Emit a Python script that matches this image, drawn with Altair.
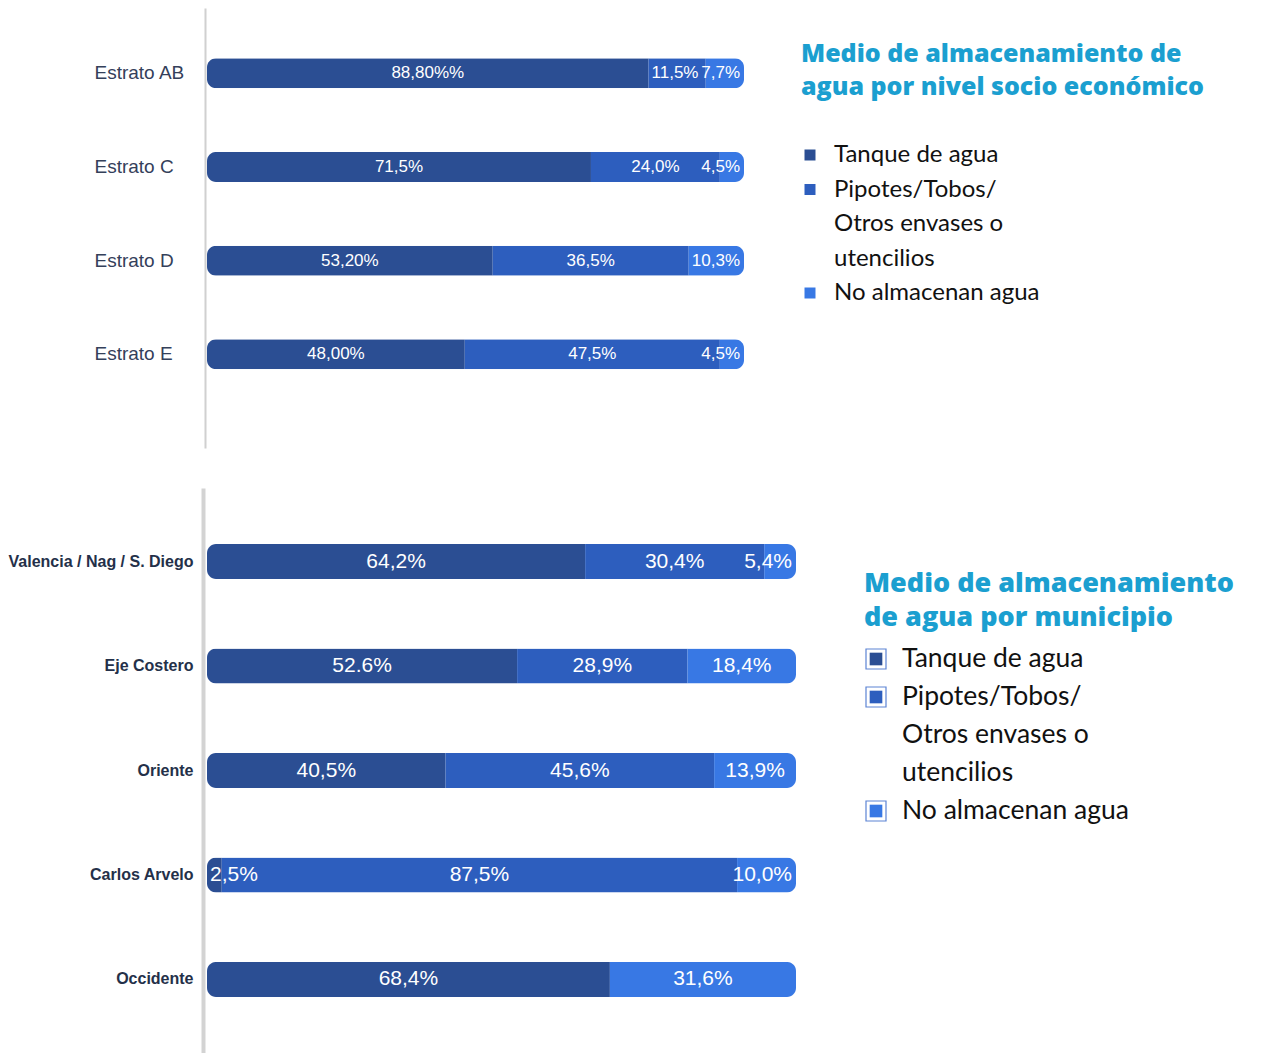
import altair as alt
import pandas as pd

# ---------------- data ----------------
categories = ["Tanque de agua", "Pipotes/Tobos/Otros envases o utencilios", "No almacenan agua"]
colors = ["#2B4E93", "#2D5EBE", "#3878E4"]

estratos = ["Estrato AB", "Estrato C", "Estrato D", "Estrato E"]
tanque_estrato = [88.8, 71.5, 53.2, 48.0]
pipotes_estrato = [11.5, 24.0, 36.5, 47.5]
noalm_estrato = [7.7, 4.5, 10.3, 4.5]
lbl_tanque_estrato = ["88,80%%", "71,5%", "53,20%", "48,00%"]
lbl_pipotes_estrato = ["11,5%", "24,0%", "36,5%", "47,5%"]
lbl_noalm_estrato = ["7,7%", "4,5%", "10,3%", "4,5%"]

municipios = ["Valencia / Nag / S. Diego", "Eje Costero", "Oriente", "Carlos Arvelo", "Occidente"]
tanque_mun = [64.2, 52.6, 40.5, 2.5, 68.4]
pipotes_mun = [30.4, 28.9, 45.6, 87.5, None]
noalm_mun = [5.4, 18.4, 13.9, 10.0, 31.6]
lbl_tanque_mun = ["64,2%", "52.6%", "40,5%", "2,5%", "68,4%"]
lbl_pipotes_mun = ["30,4%", "28,9%", "45,6%", "87,5%", None]
lbl_noalm_mun = ["5,4%", "18,4%", "13,9%", "10,0%", "31,6%"]

title_estrato = ["Medio de almacenamiento de", "agua por nivel socio económico"]
title_mun = ["Medio de almacenamiento", "de agua por municipio"]
legend_lines = [["Tanque de agua"], ["Pipotes/Tobos/", "Otros envases o", "utencilios"], ["No almacenan agua"]]

CYAN = "#1B9FD0"


def long_table(names, series, labels):
    rows = []
    for i, name in enumerate(names):
        for k, (vals, lbls) in enumerate(zip(series, labels)):
            if vals[i] is None:
                continue
            rows.append({"cat": name, "k": k, "serie": categories[k], "v": vals[i], "lbl": lbls[i]})
    return pd.DataFrame(rows)


def bars(df, order, width, height, pin, pout, align, radius, lblsize, axis_cfg):
    base = alt.Chart(df)
    y = alt.Y("cat:N", sort=order, title=None,
              scale=alt.Scale(paddingInner=pin, paddingOuter=pout, align=align),
              axis=alt.Axis(**axis_cfg))
    xs = alt.Scale(domain=[0, 1], nice=False)
    color = alt.Color("serie:N", scale=alt.Scale(domain=categories, range=colors), legend=None)
    bar = base.mark_bar(cornerRadius=radius).encode(
        x=alt.X("v:Q", stack="normalize", scale=xs, axis=None),
        y=y, color=color, order=alt.Order("k:Q"))
    stacked = base.transform_stack(
        stack="v", as_=["x0", "x1"], groupby=["cat"],
        sort=[alt.SortField("k", order="ascending")], offset="normalize"
    ).transform_calculate(mid="(datum.x0 + datum.x1) / 2", frac="datum.x1 - datum.x0")
    tstyle = dict(color="white", font="Liberation Sans", fontSize=lblsize, baseline="middle")
    center = stacked.transform_filter(
        "(datum.k == 0 && datum.frac >= 0.11) || (datum.k == 1 && datum.frac >= 0.15) || (datum.k == 2 && datum.frac >= 0.11)"
    ).mark_text(align="center", **tstyle).encode(
        x=alt.X("mid:Q", scale=xs, axis=None), y=y, text="lbl:N")
    left = stacked.transform_filter(
        "(datum.k == 0 && datum.frac < 0.11) || (datum.k == 1 && datum.frac < 0.15)"
    ).mark_text(align="left", dx=3, **tstyle).encode(
        x=alt.X("x0:Q", scale=xs, axis=None), y=y, text="lbl:N")
    right = stacked.transform_filter("datum.frac < 0.11 && datum.k == 2").mark_text(align="right", dx=-4, **tstyle).encode(
        x=alt.X("x1:Q", scale=xs, axis=None), y=y, text="lbl:N")
    return alt.layer(bar, center, left, right).properties(width=width, height=height)


def panel(title_lines, width, height, tsize, trange, lsize, lrange, text_x, sq_x, boxed):
    tdf = pd.DataFrame({"line": list(range(len(title_lines))), "text": title_lines})
    title = alt.Chart(tdf).mark_text(align="left", baseline="alphabetic", font="Open Sans", fontWeight=800,
                                      fontSize=tsize, color=CYAN).encode(
        x=alt.value(2),
        y=alt.Y("line:Q", scale=alt.Scale(domain=[0, len(title_lines) - 1], range=trange), axis=None),
        text="text:N")
    rows = []
    n = 0
    for k, lines in enumerate(legend_lines):
        for j, t in enumerate(lines):
            rows.append({"line": n, "text": t, "serie": categories[k], "first": j == 0})
            n += 1
    ldf = pd.DataFrame(rows)
    ly = alt.Y("line:Q", scale=alt.Scale(domain=[0, n - 1], range=lrange), axis=None)
    labels = alt.Chart(ldf).mark_text(align="left", baseline="middle", font="Lato", fontSize=lsize,
                                       color="#111111").encode(x=alt.value(text_x), y=ly, text="text:N")
    color = alt.Color("serie:N", scale=alt.Scale(domain=categories, range=colors), legend=None)
    first = alt.Chart(ldf).transform_filter("datum.first")
    layers = [title, labels]
    if boxed:
        layers.append(first.mark_square(size=400, filled=False, stroke="#5C84D4", strokeWidth=1.2, opacity=1).encode(
            x=alt.value(sq_x), y=ly))
        layers.append(first.mark_square(size=160, opacity=1).encode(x=alt.value(sq_x), y=ly, color=color))
    else:
        layers.append(first.mark_square(size=121, opacity=1).encode(x=alt.value(sq_x), y=ly, color=color))
    return alt.layer(*layers).resolve_scale(y="independent").properties(width=width, height=height)


top_df = long_table(estratos, [tanque_estrato, pipotes_estrato, noalm_estrato],
                    [lbl_tanque_estrato, lbl_pipotes_estrato, lbl_noalm_estrato])
bot_df = long_table(municipios, [tanque_mun, pipotes_mun, noalm_mun],
                    [lbl_tanque_mun, lbl_pipotes_mun, lbl_noalm_mun])

top_axis = dict(ticks=False, domainColor="#D0D0D0", domainWidth=2, offset=2, labelAlign="left",
                labelPadding=111, labelFont="Liberation Sans", labelFontSize=19, labelColor="#34405A",
                labelLimit=0, grid=False)
bot_axis = dict(ticks=False, domainColor="#D3D3D3", domainWidth=4, offset=4, labelAlign="right",
                labelPadding=10, labelFont="Liberation Sans", labelFontSize=16, labelFontWeight="bold",
                labelColor="#243049", labelLimit=0, grid=False)

top_bars = bars(top_df, estratos, 537, 440, 0.68, 0.688, 0.39, 9, 17, top_axis)
bot_bars = bars(bot_df, municipios, 589, 565, 0.665, 0.536, 0.5, 9, 21, bot_axis)

top_panel = panel(title_estrato, 470, 440, 25, [54, 87], 24, [147, 285], 35, 11, False)
bot_panel = panel(title_mun, 400, 565, 27, [104, 138], 26.5, [171, 323], 40, 14, True)

chart = alt.vconcat(
    alt.hconcat(top_bars, top_panel, spacing=55),
    alt.hconcat(bot_bars, bot_panel, spacing=66),
    spacing=40,
).properties(padding={"left": 0, "top": 0, "right": 0, "bottom": 0}).configure_view(stroke=None)

chart.save("out.html", embed_options={"renderer": "svg", "actions": False})
